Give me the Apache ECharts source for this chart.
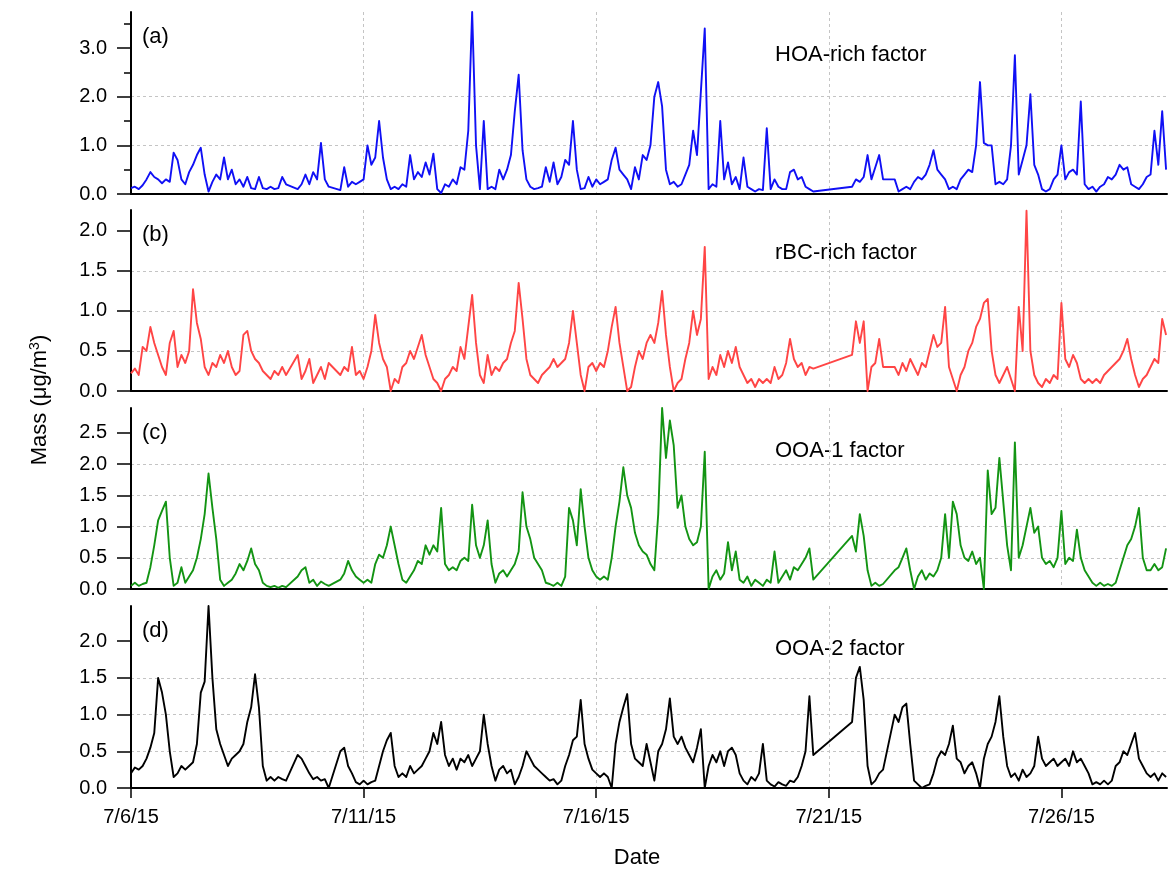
<!DOCTYPE html>
<html><head><meta charset="utf-8">
<script src="https://cdn.jsdelivr.net/npm/echarts@6/dist/echarts.min.js"></script>
<style>html,body{margin:0;padding:0;background:#fff}#c{width:1170px;height:874px}</style>
</head><body><div id="c"></div>
<script>
// time step between samples (hours), counted from 7/6/15 00:00
const stepHours = 2;
const xTickDays = [0, 5, 10, 15, 20];
const xTickLabels = ['7/6/15', '7/11/15', '7/16/15', '7/21/15', '7/26/15'];
const xMaxDays = 22.27;

const hoa = [
0.12,0.15,0.1,0.18,0.3,0.45,0.35,0.3,0.22,0.3,0.25,0.85,
0.7,0.3,0.2,0.45,0.6,0.8,0.95,0.4,0.05,0.25,0.4,0.3,
0.75,0.3,0.5,0.2,0.3,0.15,0.35,0.12,0.1,0.35,0.12,0.1,
0.15,0.1,0.12,0.35,0.2,null,null,0.1,0.2,0.4,0.2,0.45,
0.3,1.05,0.3,0.15,null,null,0.08,0.55,0.15,0.25,0.2,0.25,
0.3,1.0,0.6,0.75,1.5,0.75,0.3,0.1,0.15,0.1,0.2,0.15,
0.8,0.3,0.45,0.35,0.65,0.4,0.83,0.1,0.02,0.2,0.15,0.3,
0.2,0.55,0.5,1.3,3.74,1.0,0.1,1.5,0.1,0.15,0.1,0.5,
0.3,0.5,0.8,1.7,2.45,0.9,0.3,0.15,0.1,0.12,0.15,0.55,
0.25,0.65,0.2,0.35,0.7,0.6,1.5,0.5,0.1,0.12,0.35,0.15,
0.3,0.2,0.25,0.3,0.7,0.95,0.5,0.4,0.3,0.1,0.55,0.3,
0.8,0.7,1.0,2.0,2.3,1.8,0.5,0.2,0.25,0.15,0.2,0.4,
0.6,1.3,0.8,2.1,3.4,0.1,0.2,0.15,1.5,0.3,0.65,0.2,
0.35,0.1,0.75,0.15,0.1,0.05,0.1,0.08,1.35,0.1,0.3,0.15,
0.1,0.1,0.45,0.5,0.3,0.35,0.15,0.1,0.05,null,null,null,
null,null,null,null,null,null,0.15,0.3,0.25,0.35,0.8,0.3,
0.55,0.8,0.3,null,null,0.3,0.05,0.1,0.15,0.1,0.25,0.35,
0.3,0.4,0.6,0.9,0.5,0.4,0.3,0.1,0.15,0.1,0.3,0.4,
0.5,0.45,1.0,2.3,1.05,1.0,1.0,0.2,0.25,0.2,0.3,1.0,
2.85,0.4,0.7,1.0,2.05,0.6,0.4,0.1,0.05,0.1,0.3,0.4,
1.0,0.3,0.45,0.5,0.4,1.9,0.2,0.1,0.15,0.05,0.15,0.2,
0.35,0.3,0.4,0.6,0.5,0.55,0.2,0.15,0.1,0.2,0.35,0.4,
1.3,0.6,1.7,0.5];

const rbc = [
0.22,0.28,0.2,0.55,0.5,0.8,0.6,0.45,0.3,0.2,0.6,0.75,
0.3,0.45,0.35,0.5,1.27,0.85,0.65,0.3,0.2,0.35,0.3,0.45,
0.35,0.5,0.3,0.2,0.25,0.7,0.75,0.5,0.4,0.35,0.25,0.2,
0.15,0.25,0.2,0.3,0.2,null,null,0.45,0.15,0.25,0.4,0.1,
0.2,0.3,0.15,0.35,null,null,0.2,0.3,0.25,0.55,0.2,0.25,
0.15,0.3,0.5,0.95,0.6,0.4,0.3,0.0,0.15,0.1,0.3,0.35,
0.5,0.4,0.55,0.7,0.45,0.3,0.15,0.1,0.0,0.15,0.2,0.3,
0.25,0.55,0.4,0.8,1.2,0.6,0.2,0.1,0.45,0.2,0.3,0.25,
0.35,0.4,0.6,0.75,1.35,0.9,0.4,0.2,0.15,0.1,0.2,0.25,
0.3,0.4,0.3,0.35,0.4,0.6,1.0,0.6,0.2,0.0,0.3,0.35,
0.25,0.35,0.3,0.5,0.8,1.05,0.6,0.3,0.0,0.05,0.3,0.5,
0.4,0.6,0.7,0.6,0.85,1.25,0.7,0.3,0.0,0.1,0.15,0.4,
0.6,1.0,0.7,0.9,1.8,0.15,0.3,0.2,0.45,0.3,0.5,0.35,
0.55,0.3,0.2,0.1,0.15,0.05,0.15,0.1,0.15,0.1,0.3,0.15,
0.2,0.35,0.65,0.4,0.3,0.35,0.2,0.3,0.28,null,null,null,
null,null,null,null,null,null,0.45,0.87,0.6,0.87,0.0,0.3,
0.35,0.65,0.3,null,null,0.3,0.2,0.35,0.25,0.4,0.3,0.2,
0.35,0.3,0.5,0.7,0.55,0.6,1.05,0.3,0.15,0.0,0.2,0.3,
0.5,0.6,0.8,0.9,1.1,1.15,0.5,0.2,0.1,0.2,0.3,0.15,
0.0,1.05,0.5,2.25,0.5,0.2,0.1,0.05,0.15,0.1,0.2,0.15,
1.1,0.4,0.3,0.45,0.35,0.15,0.1,0.15,0.1,0.15,0.1,0.2,
0.25,0.3,0.35,0.4,0.5,0.65,0.4,0.2,0.05,0.15,0.2,0.3,
0.4,0.35,0.9,0.7];

const ooa1 = [
0.05,0.1,0.05,0.08,0.1,0.35,0.7,1.1,1.25,1.4,0.5,0.05,
0.1,0.35,0.1,0.2,0.3,0.5,0.8,1.2,1.85,1.3,0.8,0.15,
0.05,0.1,0.15,0.25,0.4,0.3,0.45,0.65,0.4,0.3,0.1,0.05,
0.03,0.05,0.02,0.05,0.03,null,null,0.2,0.3,0.35,0.1,0.15,
0.05,0.12,0.08,0.05,null,null,0.15,0.25,0.45,0.3,0.2,0.15,
0.1,0.15,0.1,0.4,0.55,0.5,0.7,1.0,0.7,0.4,0.15,0.1,
0.2,0.3,0.45,0.4,0.7,0.55,0.7,0.6,1.3,0.4,0.3,0.35,
0.3,0.45,0.5,0.45,1.35,0.7,0.5,0.7,1.1,0.4,0.1,0.25,
0.3,0.2,0.3,0.4,0.6,1.55,1.0,0.8,0.5,0.4,0.3,0.1,
0.08,0.05,0.1,0.05,0.2,1.3,1.1,0.7,1.6,1.0,0.5,0.3,
0.2,0.15,0.2,0.15,0.5,1.0,1.4,1.95,1.5,1.3,0.9,0.7,
0.6,0.55,0.4,0.3,1.2,2.9,2.1,2.7,2.3,1.3,1.5,1.0,
0.8,0.7,0.75,1.0,2.2,0.0,0.2,0.3,0.15,0.25,0.75,0.3,
0.6,0.15,0.1,0.2,0.05,0.15,0.1,0.05,0.15,0.1,0.6,0.1,
0.2,0.3,0.15,0.35,0.3,0.4,0.5,0.65,0.15,null,null,null,
null,null,null,null,null,null,0.85,0.6,1.2,0.85,0.3,0.05,
0.1,0.05,0.08,null,null,0.3,0.35,0.5,0.65,0.3,0.0,0.2,
0.3,0.15,0.25,0.2,0.3,0.5,1.2,0.5,1.4,1.2,0.7,0.5,
0.45,0.6,0.4,0.5,0.0,1.9,1.2,1.3,2.1,1.4,0.7,0.3,
2.35,0.5,0.7,1.0,1.3,0.9,1.0,0.5,0.4,0.45,0.35,0.5,
1.25,0.4,0.5,0.45,0.95,0.5,0.3,0.2,0.1,0.05,0.1,0.05,
0.08,0.05,0.1,0.3,0.5,0.7,0.8,1.0,1.3,0.5,0.3,0.3,
0.4,0.3,0.35,0.65];

const ooa2 = [
0.2,0.28,0.25,0.3,0.4,0.55,0.75,1.5,1.3,1.0,0.5,0.15,
0.2,0.3,0.25,0.3,0.35,0.6,1.3,1.45,2.48,1.5,0.8,0.6,
0.45,0.3,0.4,0.45,0.5,0.6,0.9,1.1,1.55,1.1,0.3,0.1,
0.15,0.1,0.15,0.12,0.1,null,null,0.45,0.4,0.3,0.2,0.12,
0.15,0.1,0.12,0.0,null,null,0.5,0.55,0.3,0.2,0.08,0.05,
0.1,0.05,0.08,0.1,0.3,0.5,0.65,0.75,0.3,0.15,0.2,0.15,
0.3,0.2,0.25,0.3,0.4,0.5,0.75,0.6,0.9,0.45,0.3,0.4,
0.25,0.4,0.35,0.45,0.3,0.4,0.5,1.0,0.6,0.3,0.1,0.25,
0.3,0.2,0.25,0.05,0.15,0.3,0.5,0.4,0.3,0.25,0.2,0.15,
0.1,0.12,0.05,0.1,0.3,0.45,0.65,0.7,1.2,0.6,0.4,0.25,
0.2,0.15,0.2,0.15,0.0,0.6,0.9,1.1,1.28,0.6,0.4,0.35,
0.3,0.6,0.35,0.1,0.5,0.6,0.8,1.22,0.7,0.6,0.7,0.55,
0.45,0.35,0.55,0.8,0.0,0.3,0.45,0.35,0.5,0.3,0.5,0.55,
0.45,0.2,0.1,0.05,0.15,0.1,0.2,0.6,0.1,0.05,0.02,0.08,
0.05,0.03,0.1,0.08,0.15,0.3,0.5,1.25,0.45,null,null,null,
null,null,null,null,null,null,0.9,1.5,1.65,1.2,0.3,0.05,
0.1,0.2,0.25,null,null,1.0,0.9,1.1,1.15,0.6,0.1,0.05,
0.0,0.03,0.05,0.2,0.4,0.5,0.45,0.6,0.85,0.4,0.35,0.2,
0.3,0.35,0.2,0.0,0.4,0.6,0.7,0.9,1.25,0.7,0.3,0.15,
0.2,0.1,0.25,0.15,0.2,0.3,0.7,0.4,0.3,0.35,0.4,0.3,
0.35,0.4,0.3,0.5,0.35,0.4,0.3,0.2,0.05,0.08,0.05,0.1,
0.05,0.1,0.3,0.35,0.5,0.45,0.6,0.75,0.4,0.3,0.2,0.15,
0.2,0.1,0.2,0.15];

const panelLetters = ['(a)', '(b)', '(c)', '(d)'];
const panelNames = ['HOA-rich factor', 'rBC-rich factor', 'OOA-1 factor', 'OOA-2 factor'];
const panelColors = ['#1010f5', '#ff4545', '#139413', '#000000'];
const yMaxes = [3.74, 2.26, 2.9, 2.48];
const yTicksA = [0, 1, 2, 3];
const yTicksB = [0, 0.5, 1, 1.5, 2];
const yTicksC = [0, 0.5, 1, 1.5, 2, 2.5];
const yTicksD = [0, 0.5, 1, 1.5, 2];
const yMinorA = [0.5, 1.5, 2.5, 3.5];
const yIntervals = [1, 0.5, 0.5, 0.5];

const seriesValues = [hoa, rbc, ooa1, ooa2];
const yTicks = [yTicksA, yTicksB, yTicksC, yTicksD];

const gridTops = [12, 210, 408, 606];
const gridHeights = [182, 181, 181, 182];
const FONT = 'Liberation Sans, Arial, sans-serif';
const gridLineStyle = { color: '#c4c4c4', width: 1, type: [3, 3] };

const grid = gridTops.map((t, k) => ({ left: 131, right: 3, top: t, height: gridHeights[k] }));

const xAxis = gridTops.map((t, k) => ({
  type: 'value', gridIndex: k, min: 0, max: xMaxDays, interval: 5,
  axisLine: { show: true, onZero: false, lineStyle: { color: '#000', width: 2 } },
  axisTick: k === 3 ? { show: true, customValues: xTickDays, length: 10, lineStyle: { color: '#000', width: 1.5 } } : { show: false },
  axisLabel: k === 3 ? {
    show: true, customValues: xTickDays, margin: 19, color: '#000', fontSize: 20, fontFamily: FONT,
    formatter: v => xTickLabels[xTickDays.indexOf(v)] || ''
  } : { show: false },
  splitLine: { show: true, showMinLine: false, showMaxLine: false, lineStyle: gridLineStyle }
}));

const yAxis = [];
yTicks.forEach((ticks, k) => {
  yAxis.push({
    type: 'value', gridIndex: k, min: 0, max: yMaxes[k], interval: yIntervals[k],
    axisLine: { show: true, lineStyle: { color: '#000', width: 2 } },
    axisTick: { show: true, customValues: ticks, length: 14, lineStyle: { color: '#000', width: 1.5 } },
    axisLabel: { show: true, customValues: ticks, margin: 24, color: '#000', fontSize: 20, fontFamily: FONT,
      formatter: v => v.toFixed(1) },
    splitLine: { show: true, showMinLine: false, showMaxLine: false, lineStyle: gridLineStyle }
  });
});
// minor ticks for panel (a)
yAxis.push({
  type: 'value', gridIndex: 0, min: 0, max: yMaxes[0], position: 'left',
  axisLine: { show: false },
  axisTick: { show: true, customValues: yMinorA, length: 7, lineStyle: { color: '#000', width: 1.5 } },
  axisLabel: { show: false }, splitLine: { show: false }
});

const series = seriesValues.map((vals, k) => ({
  type: 'line', xAxisIndex: k, yAxisIndex: k, showSymbol: false, symbol: 'none',
  connectNulls: true, animation: false,
  lineStyle: { color: panelColors[k], width: 1.9, join: 'round' },
  data: vals.map((v, i) => [i * stepHours / 24, v])
}));

const graphic = [];
gridTops.forEach((t, k) => {
  graphic.push({ type: 'text', x: 142, y: t + 25, style: { text: panelLetters[k], fill: '#000', font: '22px ' + FONT, verticalAlign: 'middle' } });
  graphic.push({ type: 'text', x: 775, y: t + 43, style: { text: panelNames[k], fill: '#000', font: '22px ' + FONT, verticalAlign: 'middle' } });
});
graphic.push({ type: 'text', x: 637, y: 858, style: { text: 'Date', fill: '#000', font: '22px ' + FONT, align: 'center', verticalAlign: 'middle' } });
graphic.push({ type: 'text', x: 40, y: 400, rotation: Math.PI / 2,
  style: { text: '{a|Mass (μg/m}{s|3}{a|)}', align: 'center', verticalAlign: 'middle',
    rich: { a: { fontSize: 22, fontFamily: FONT, fill: '#000', color: '#000' },
            s: { fontSize: 14, fontFamily: FONT, fill: '#000', color: '#000', padding: [0, 0, 10, 0] } } } });

const chart = echarts.init(document.getElementById('c'), null, { renderer: 'canvas' });
chart.setOption({ animation: false, backgroundColor: '#fff', grid, xAxis, yAxis, series, graphic });
</script>
</body></html>
